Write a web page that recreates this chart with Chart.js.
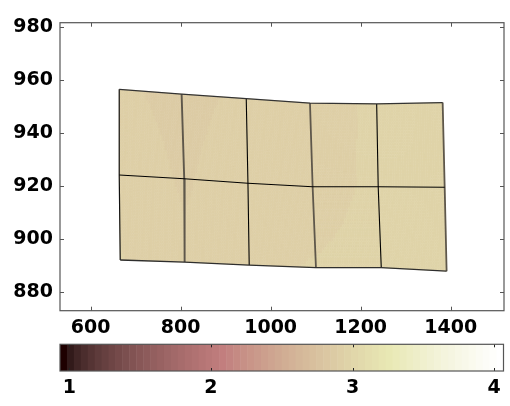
<!DOCTYPE html>
<html>
<head>
<meta charset="utf-8">
<script src="https://cdn.jsdelivr.net/npm/chart.js@4/dist/chart.umd.min.js"></script>
<style>
  html, body { margin: 0; padding: 0; background: #ffffff; }
  #wrap { position: relative; width: 510px; height: 406px; overflow: hidden; }
  canvas { position: absolute; left: 0; }
  #main { top: 0; }
  #cbar { top: 330px; }
</style>
</head>
<body>
<div id="wrap">
  <canvas id="main" width="510" height="340"></canvas>
  <canvas id="cbar" width="510" height="76"></canvas>
</div>
<script>
// Mesh node coordinates: three rows (top, middle, bottom) of six nodes each
const xTop = [663.6, 802.2, 945.8, 1087.4, 1235.6, 1382.2];
const yTop = [956.4, 954.6, 952.9, 951.2, 950.9, 951.4];
const xMid = [663.6, 808.0, 949.6, 1093.3, 1239.0, 1386.7];
const yMid = [924.1, 922.7, 921.0, 919.7, 919.7, 919.5];
const xBot = [665.8, 808.9, 952.4, 1100.7, 1245.8, 1391.0];
const yBot = [892.1, 891.3, 890.2, 889.2, 889.2, 887.9];

// Field value at each node
const zTop = [2.900, 2.878, 2.900, 2.915, 2.950, 2.955];
const zMid = [2.920, 2.886, 2.918, 2.912, 2.955, 2.960];
const zBot = [2.945, 2.898, 2.925, 2.945, 2.960, 2.965];

// Axis limits and ticks
const xLimits = [532, 1518.5];
const yLimits = [873, 981.5];
const xTicks = [600, 800, 1000, 1200, 1400];
const yTicks = [880, 900, 920, 940, 960, 980];

// Colour axis
const cLimits = [0.934, 4.066];
const cTicks = [1, 2, 3, 4];
const nColors = 64;

const FONT = { family: 'DejaVu Sans', size: 19, weight: 'bold' };
const FRAME = '#555555';
const plainLabel = v => String(v);

// MATLAB-style "pink" colormap
function pinkMap(m) {
  const k = Math.floor(3 / 8 * m);
  const out = [];
  for (let i = 0; i < m; i++) {
    const g = i / (m - 1);
    const hr = i < k ? (i + 1) / k : 1;
    const hg = i < k ? 0 : (i < 2 * k ? (i - k + 1) / k : 1);
    const hb = i < 2 * k ? 0 : (i - 2 * k + 1) / (m - 2 * k);
    out.push([hr, hg, hb].map(h => Math.round(Math.sqrt((2 * g + h) / 3) * 255)));
  }
  return out;
}
const cmap = pinkMap(nColors);
function colorFor(v) {
  let i = Math.floor((v - cLimits[0]) / (cLimits[1] - cLimits[0]) * nColors);
  i = Math.max(0, Math.min(nColors - 1, i));
  const c = cmap[i];
  return `rgb(${c[0]},${c[1]},${c[2]})`;
}

const rowsX = [xTop, xMid, xBot];
const rowsY = [yTop, yMid, yBot];
const rowsZ = [zTop, zMid, zBot];

// Interpolated surface fill, drawn under the mesh lines
const surfacePlugin = {
  id: 'surface',
  beforeDatasetsDraw(chart) {
    const ctx = chart.ctx;
    const xs = chart.scales.x, ys = chart.scales.y;
    const N = 28;
    ctx.save();
    ctx.lineWidth = 0.6;
    for (let r = 0; r < rowsX.length - 1; r++) {
      for (let c = 0; c < xTop.length - 1; c++) {
        const P = [
          [xs.getPixelForValue(rowsX[r][c]), ys.getPixelForValue(rowsY[r][c]), rowsZ[r][c]],
          [xs.getPixelForValue(rowsX[r][c + 1]), ys.getPixelForValue(rowsY[r][c + 1]), rowsZ[r][c + 1]],
          [xs.getPixelForValue(rowsX[r + 1][c]), ys.getPixelForValue(rowsY[r + 1][c]), rowsZ[r + 1][c]],
          [xs.getPixelForValue(rowsX[r + 1][c + 1]), ys.getPixelForValue(rowsY[r + 1][c + 1]), rowsZ[r + 1][c + 1]]
        ];
        const bil = (u, v, k) => (1 - u) * (1 - v) * P[0][k] + u * (1 - v) * P[1][k] + (1 - u) * v * P[2][k] + u * v * P[3][k];
        for (let i = 0; i < N; i++) {
          for (let j = 0; j < N; j++) {
            const u0 = i / N, u1 = (i + 1) / N, v0 = j / N, v1 = (j + 1) / N;
            const col = colorFor(bil((u0 + u1) / 2, (v0 + v1) / 2, 2));
            ctx.fillStyle = col;
            ctx.strokeStyle = col;
            ctx.beginPath();
            ctx.moveTo(bil(u0, v0, 0), bil(u0, v0, 1));
            ctx.lineTo(bil(u1, v0, 0), bil(u1, v0, 1));
            ctx.lineTo(bil(u1, v1, 0), bil(u1, v1, 1));
            ctx.lineTo(bil(u0, v1, 0), bil(u0, v1, 1));
            ctx.closePath();
            ctx.fill();
            ctx.stroke();
          }
        }
      }
    }
    ctx.restore();
  }
};

// Box frame with inward tick marks on all four sides
function boxPlugin(id, tickLen, tickColor, useY) {
  return {
    id,
    afterDraw(chart) {
      const ctx = chart.ctx;
      const a = chart.chartArea;
      const xs = chart.scales.x;
      ctx.save();
      ctx.strokeStyle = tickColor;
      ctx.lineWidth = 1;
      ctx.beginPath();
      xs.ticks.forEach(t => {
        const px = Math.round(xs.getPixelForValue(t.value)) + 0.5;
        ctx.moveTo(px, a.top); ctx.lineTo(px, a.top + tickLen);
        ctx.moveTo(px, a.bottom); ctx.lineTo(px, a.bottom - tickLen);
      });
      if (useY) {
        const ys = chart.scales.y;
        ys.ticks.forEach(t => {
          const py = Math.round(ys.getPixelForValue(t.value)) + 0.5;
          ctx.moveTo(a.left, py); ctx.lineTo(a.left + tickLen, py);
          ctx.moveTo(a.right, py); ctx.lineTo(a.right - tickLen, py);
        });
      }
      ctx.stroke();
      ctx.strokeStyle = FRAME;
      ctx.lineWidth = 1.2;
      ctx.strokeRect(a.left, a.top, a.right - a.left, a.bottom - a.top);
      ctx.restore();
    }
  };
}

function lineSet(xa, ya, color, width) {
  return {
    data: xa.map((x, i) => ({ x, y: ya[i] })),
    showLine: true,
    borderColor: color,
    borderWidth: width,
    pointRadius: 0,
    fill: false,
    tension: 0
  };
}

// Mesh lines: rows then columns
const lineStyles = {
  rows: [['#333333', 1.3], ['#000000', 1.1], ['#2e2e2e', 1.3]],
  cols: [['#111111', 1.2], ['#5e574b', 1.9], ['#000000', 1.1], ['#5e574b', 1.8], ['#000000', 1.1], ['#5e574b', 1.8]]
};
const datasets = [];
rowsX.forEach((xa, r) => datasets.push(lineSet(xa, rowsY[r], lineStyles.rows[r][0], lineStyles.rows[r][1])));
for (let c = 0; c < xTop.length; c++) {
  datasets.push(lineSet(rowsX.map(a => a[c]), rowsY.map(a => a[c]), lineStyles.cols[c][0], lineStyles.cols[c][1]));
}

new Chart(document.getElementById('main'), {
  type: 'scatter',
  data: { datasets },
  options: {
    responsive: false,
    animation: false,
    devicePixelRatio: 1,
    layout: { padding: { top: 22.7, right: 6, bottom: 0, left: 0 } },
    plugins: { legend: { display: false }, tooltip: { enabled: false } },
    scales: {
      x: {
        type: 'linear',
        min: xLimits[0], max: xLimits[1],
        afterBuildTicks: s => { s.ticks = xTicks.map(v => ({ value: v })); },
        afterFit: s => { s.height = 29.3; },
        grid: { display: false, drawTicks: false },
        border: { display: false },
        ticks: { color: '#000', font: FONT, padding: 6, maxRotation: 0, autoSkip: false, callback: plainLabel }
      },
      y: {
        type: 'linear',
        min: yLimits[0], max: yLimits[1],
        afterBuildTicks: s => { s.ticks = yTicks.map(v => ({ value: v })); },
        afterFit: s => { s.width = 60; },
        grid: { display: false, drawTicks: false },
        border: { display: false },
        ticks: { color: '#000', font: FONT, padding: 7, autoSkip: false, callback: plainLabel }
      }
    }
  },
  plugins: [surfacePlugin, boxPlugin('mainBox', 4, FRAME, true)]
});

// Colour bar strip
const colorbarPlugin = {
  id: 'colorbar',
  beforeDatasetsDraw(chart) {
    const ctx = chart.ctx;
    const a = chart.chartArea;
    const xs = chart.scales.x;
    const step = (cLimits[1] - cLimits[0]) / nColors;
    ctx.save();
    for (let i = 0; i < nColors; i++) {
      const x0 = xs.getPixelForValue(cLimits[0] + i * step);
      const x1 = xs.getPixelForValue(cLimits[0] + (i + 1) * step);
      const c = cmap[i];
      ctx.fillStyle = `rgb(${c[0]},${c[1]},${c[2]})`;
      ctx.fillRect(x0, a.top, x1 - x0 + 0.5, a.bottom - a.top);
    }
    ctx.restore();
  }
};

new Chart(document.getElementById('cbar'), {
  type: 'scatter',
  data: { datasets: [{ data: [], pointRadius: 0 }] },
  options: {
    responsive: false,
    animation: false,
    devicePixelRatio: 1,
    layout: { padding: { top: 14.3, right: 6.5, bottom: 0, left: 60 } },
    plugins: { legend: { display: false }, tooltip: { enabled: false } },
    scales: {
      x: {
        type: 'linear',
        min: cLimits[0], max: cLimits[1],
        afterBuildTicks: s => { s.ticks = cTicks.map(v => ({ value: v })); },
        afterFit: s => { s.height = 35; },
        grid: { display: false, drawTicks: false },
        border: { display: false },
        ticks: { color: '#000', font: FONT, padding: 6, maxRotation: 0, autoSkip: false, callback: plainLabel }
      },
      y: { display: false, min: 0, max: 1 }
    }
  },
  plugins: [colorbarPlugin, boxPlugin('cbarBox', 3, '#222222', false)]
});
</script>
</body>
</html>
